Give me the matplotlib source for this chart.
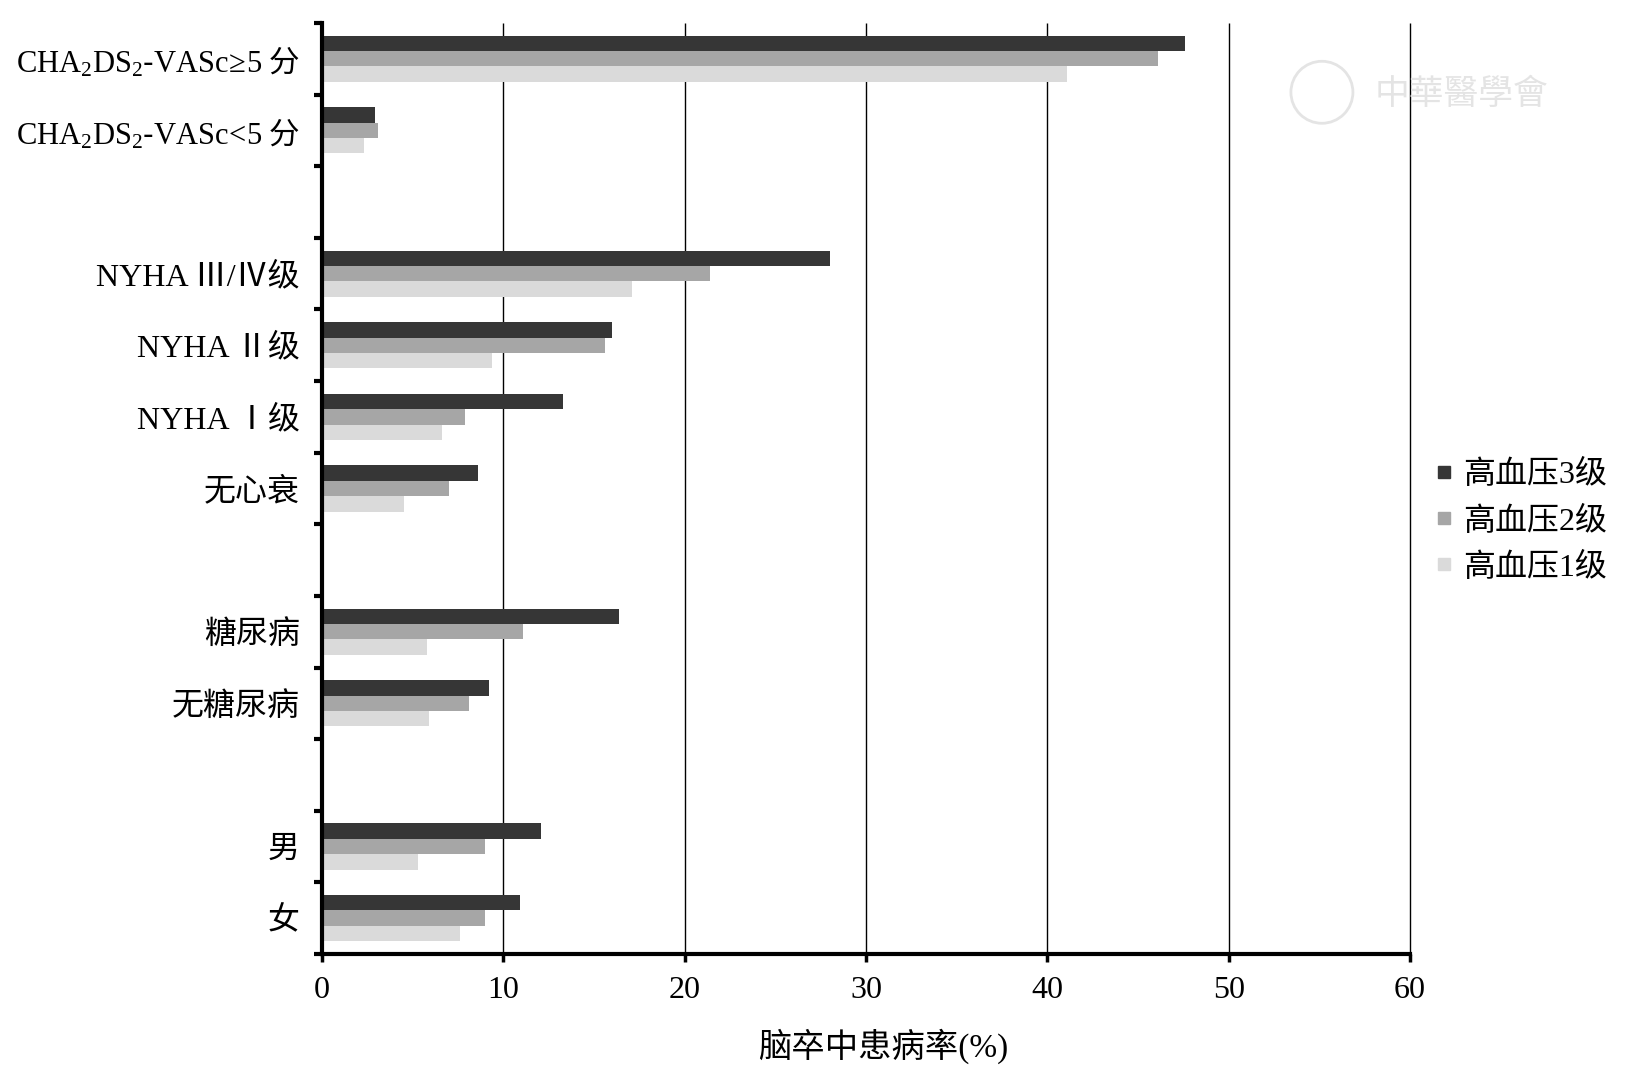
import numpy as np
import matplotlib.pyplot as plt
from matplotlib.lines import Line2D
from matplotlib.patches import Ellipse

plt.rcParams['font.family'] = ['Liberation Serif', 'Noto Sans CJK SC']
plt.rcParams['mathtext.fontset'] = 'custom'
plt.rcParams['mathtext.rm'] = 'Liberation Serif'
plt.rcParams['mathtext.it'] = 'Liberation Serif:italic'
plt.rcParams['mathtext.default'] = 'rm'

# categories top to bottom, '' = empty spacer slot
groups = [r'$CHA_2DS_2$-$VASc\!\geq\!5$ 分', r'$CHA_2DS_2$-$VASc\!<\!5$ 分', '',
          'NYHA Ⅲ/Ⅳ级', 'NYHA Ⅱ级', 'NYHA Ⅰ级', '无心衰', '',
          '糖尿病', '无糖尿病', '', '男', '女']
grade3 = [47.6, 2.9, 0, 28.0, 16.0, 13.3, 8.6, 0, 16.4, 9.2, 0, 12.1, 10.9]
grade2 = [46.1, 3.1, 0, 21.4, 15.6, 7.9, 7.0, 0, 11.1, 8.1, 0, 9.0, 9.0]
grade1 = [41.1, 2.3, 0, 17.1, 9.4, 6.6, 4.5, 0, 5.8, 5.9, 0, 5.3, 7.6]
series = ['高血压3级', '高血压2级', '高血压1级']
colors = ['#363636', '#a6a6a6', '#dadada']
xticks = [0, 10, 20, 30, 40, 50, 60]

fig = plt.figure(figsize=(16.32, 10.73), dpi=100)
ax = fig.add_axes([0.1973, 0.1109, 0.6667, 0.8677])

y = np.arange(len(groups))[::-1]
h = 0.215
for vals, off, c in zip([grade3, grade2, grade1], [h, 0, -h], colors):
    ax.barh(y + off, vals, height=h, color=c, edgecolor='none', zorder=2)

ax.set_xlim(0, 60)
ax.set_ylim(-0.5, len(groups) - 0.5)
ax.set_xticks(xticks)
ax.set_yticks(y, groups)
ax.set_yticks(np.arange(-0.5, len(groups), 1), minor=True)
ax.tick_params(axis='y', which='major', length=0, pad=16, labelsize=23)
ax.tick_params(axis='y', which='minor', length=6, width=3, color='black')
ax.tick_params(axis='x', length=6, width=2.5, pad=10, labelsize=23)
for lab in ax.get_yticklabels():
    if 'CHA' in lab.get_text():
        lab.set_fontfamily('Noto Sans CJK SC')
        lab.set_fontsize(22)

# vertical grid lines (drawn unclipped so the one at 60 stays fully visible)
ax.vlines(xticks[1:], -0.5, len(groups) - 0.5, color='black', linewidth=1,
          zorder=1, clip_on=False)
for s in ['top', 'right']:
    ax.spines[s].set_visible(False)
ax.spines['left'].set_linewidth(3)
ax.spines['bottom'].set_linewidth(3)
ax.set_xlabel('脑卒中患病率(%)', fontsize=24, va='center')
ax.xaxis.set_label_coords(0.516, -0.099)

handles = [Line2D([], [], marker='s', ls='', color=c, markersize=9) for c in colors]
fig.legend(handles, series, loc='center left', bbox_to_anchor=(0.867, 0.514),
           frameon=False, fontsize=23, handletextpad=0.2, labelspacing=0.5,
           handlelength=0.8, borderpad=0)

# faint watermark
fig.patches.append(Ellipse((0.810, 0.914), 62 / 1632, 62 / 1073, transform=fig.transFigure,
                           facecolor='none', edgecolor='#e4e4e4', linewidth=2))
fig.text(0.842, 0.912, '中華醫學會', fontsize=25, color='#e4e4e4',
         va='center', ha='left', fontfamily='Noto Sans CJK TC')

fig.savefig('out.png', dpi=100)
